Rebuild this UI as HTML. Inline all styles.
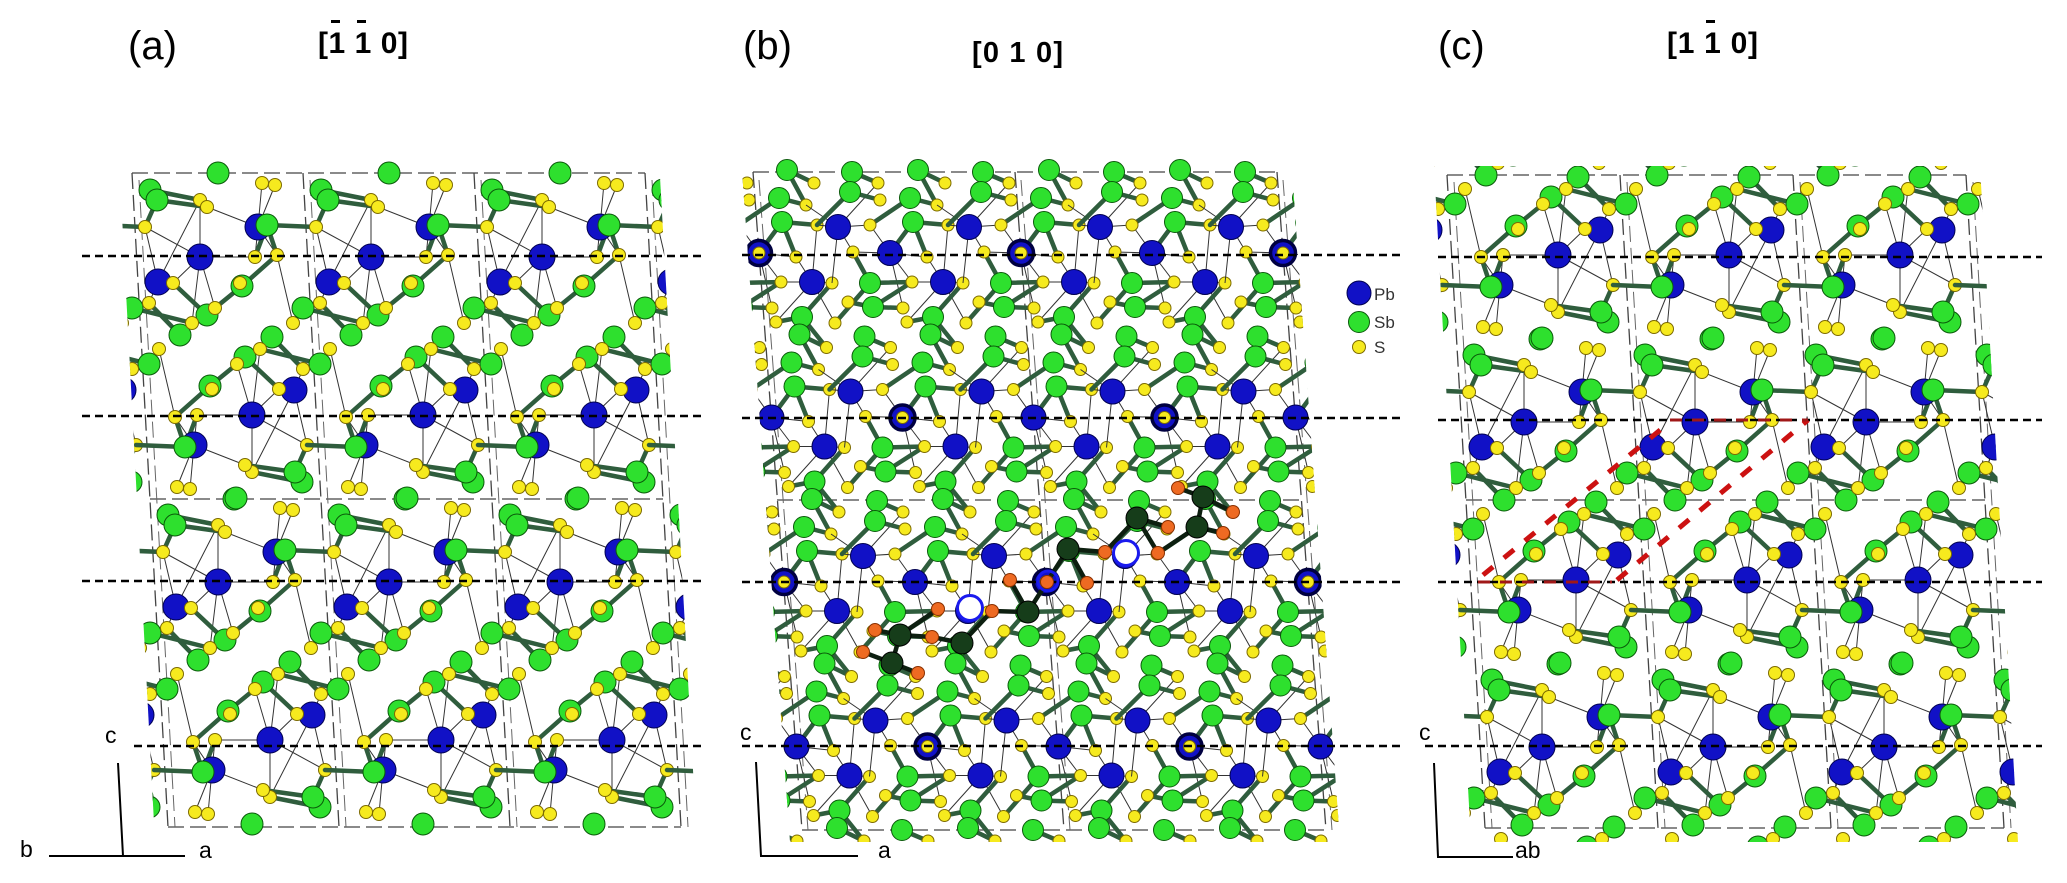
<!DOCTYPE html>
<html><head><meta charset="utf-8">
<style>html,body{margin:0;padding:0;background:#fff;width:2067px;height:883px;overflow:hidden}svg{display:block}</style>
</head><body>
<svg xmlns="http://www.w3.org/2000/svg" width="2067" height="883" viewBox="0 0 2067 883" font-family="'Liberation Sans', Arial, sans-serif">
<defs>
<g id="ha">
<path d="M258 227L262 183M258 227L275 185M258 227L207 207M258 227L255 257M258 227L277 255M200 257L200 200M200 257L145 227M200 257L173 283M200 257L215 308M200 257L192 323M200 257L255 257M158 282L145 227M158 282L173 283M158 282L149 303M158 282L200 200M293 323L277 255" stroke="#333" stroke-width="1" fill="none"/>
<path d="M150 190L200 200M157 200L207 207M157 200L145 227M267 225L316 227M267 225L255 257M267 225L277 255M242 286L277 255M242 286L215 308M207 315L192 323M207 315L173 283M180 335L149 303M132 308L149 303M132 308L192 323" stroke="#2f5d3d" stroke-width="4.5" fill="none" stroke-linecap="round"/>
<g fill="#1111c6" stroke="#000050"><circle cx="258" cy="227" r="13"/><circle cx="200" cy="257" r="13"/><circle cx="158" cy="282" r="13"/></g>
<g fill="#2ee02e" stroke="#0a5a0a"><circle cx="218" cy="173" r="11"/><circle cx="150" cy="190" r="11"/><circle cx="157" cy="200" r="11"/><circle cx="267" cy="225" r="11"/><circle cx="242" cy="286" r="11"/><circle cx="132" cy="308" r="11"/><circle cx="207" cy="315" r="11"/><circle cx="180" cy="335" r="11"/></g>
<g fill="#f6ea1e" stroke="#7d6b00"><circle cx="262" cy="183" r="6.5"/><circle cx="275" cy="185" r="6.5"/><circle cx="200" cy="200" r="6.5"/><circle cx="207" cy="207" r="6.5"/><circle cx="145" cy="227" r="6.5"/><circle cx="255" cy="257" r="6.5"/><circle cx="277" cy="255" r="6.5"/><circle cx="173" cy="283" r="6.5"/><circle cx="240" cy="283" r="6.5"/><circle cx="149" cy="303" r="6.5"/><circle cx="215" cy="308" r="6.5"/><circle cx="192" cy="323" r="6.5"/><circle cx="293" cy="323" r="6.5"/></g>
</g>
<g id="ua"><use href="#ha"/><use href="#ha" transform="rotate(180 226 336)"/></g>
<g id="hit">
<path d="M245 357L260 349" stroke="#2f5d3d" stroke-width="4.5" fill="none" stroke-linecap="round"/>
<g fill="#2ee02e" stroke="#0a5a0a"><circle cx="272" cy="337" r="11"/><circle cx="245" cy="357" r="11"/></g>
<g fill="#f6ea1e" stroke="#7d6b00"><circle cx="260" cy="349" r="6.5"/><circle cx="159" cy="349" r="6.5"/></g>
</g>

<g id="ub">
<path d="M890 253L853 252M890 253L927 257M890 253L870 225M890 253L912 282M890 253L903 308M838 227L853 252M838 227L870 225M838 227L817 225M838 227L806 205M838 227L832 283M838 227L878 183M943 282L927 257M943 282L963 283M943 282L912 282M943 282L948 225M943 282L907 322M943 282L966 323" stroke="#333" stroke-width="1" fill="none"/>
<path d="M918 170L945 183M918 170L937 205M910 198L937 205M913 222L948 225M913 222L927 257M913 222L890 253M852 172L878 183M850 192L880 200M850 192L817 225M870 225L910 198M870 283L853 252M870 283L912 282M873 307L848 302M873 307L903 308M873 307L912 282M933 317L907 322M933 317L963 283M933 317L957 347M966 323L1001 283" stroke="#2f5d3d" stroke-width="4.5" fill="none" stroke-linecap="round"/>
<g fill="#1111c6" stroke="#000050"><circle cx="890" cy="253" r="12.5"/><circle cx="838" cy="227" r="12.5"/><circle cx="943" cy="282" r="12.5"/></g>
<g fill="#2ee02e" stroke="#0a5a0a"><circle cx="918" cy="170" r="10.5"/><circle cx="910" cy="198" r="10.5"/><circle cx="913" cy="222" r="10.5"/><circle cx="852" cy="172" r="10.5"/><circle cx="850" cy="192" r="10.5"/><circle cx="870" cy="283" r="10.5"/><circle cx="873" cy="307" r="10.5"/><circle cx="933" cy="317" r="10.5"/></g>
<g fill="#f6ea1e" stroke="#7d6b00"><circle cx="878" cy="183" r="6"/><circle cx="945" cy="183" r="6"/><circle cx="880" cy="200" r="6"/><circle cx="937" cy="205" r="6"/><circle cx="870" cy="225" r="6"/><circle cx="948" cy="225" r="6"/><circle cx="853" cy="252" r="6"/><circle cx="927" cy="257" r="6"/><circle cx="912" cy="282" r="6"/><circle cx="963" cy="283" r="6"/><circle cx="848" cy="302" r="6"/><circle cx="903" cy="308" r="6"/><circle cx="966" cy="323" r="6"/><circle cx="907" cy="322" r="6"/></g>
</g>
<g id="ubr"><use href="#ub"/><circle cx="890" cy="253" r="12.5" fill="#1111c6" stroke="#000040" stroke-width="3.5"/><circle cx="890" cy="253" r="6" fill="#f6ea1e" stroke="#7d6b00"/></g>
<g id="ubt">
<path d="M918 170L945 183M852 172L878 183" stroke="#2f5d3d" stroke-width="4.5" fill="none" stroke-linecap="round"/>
<g fill="#2ee02e" stroke="#0a5a0a"><circle cx="918" cy="170" r="10.5"/><circle cx="852" cy="172" r="10.5"/></g>
<g fill="#f6ea1e" stroke="#7d6b00"><circle cx="878" cy="183" r="6"/><circle cx="945" cy="183" r="6"/></g>
</g>

<clipPath id="ca"><polygon points="119,159 659,159 697,842 155,842"/></clipPath>
<clipPath id="cb"><polygon points="741,157 1291,157 1340,842 790,842"/></clipPath>
<clipPath id="cc"><polygon points="1434,166 1980,166 2018,842 1471,842"/></clipPath>
</defs>

<rect width="2067" height="883" fill="#fff"/>

<g stroke="#444" stroke-width="1.3" fill="none" stroke-dasharray="16 6">
<path d="M132 173H645M150 499H663M168 827H681M132 173L168 827M303 173L339 827M474 173L510 827M645 173L681 827"/>
<path d="M139 180L175 827M310 180L346 827M481 180L517 827M652 180L688 827" stroke="#666" stroke-width="1"/>
<path d="M753 172H1277M777 500H1301M802 830H1326M753 172L802 830M1015 172L1064 830M1277 172L1326 830"/>
<path d="M759 180L808 830M1021 180L1070 830M1283 180L1332 830" stroke="#666" stroke-width="1"/>
<path d="M1447 175H1966M1466 500H1985M1485 828H2004M1447 175L1485 828M1620 175L1658 828M1793 175L1831 828M1966 175L2004 828"/>
<path d="M1454 182L1492 828M1627 182L1665 828M1800 182L1838 828M1973 182L2011 828" stroke="#666" stroke-width="1"/>
</g>

<g clip-path="url(#ca)">
<use href="#ua" transform="translate(-171,0)"/><use href="#ua"/><use href="#ua" transform="translate(171,0)"/><use href="#ua" transform="translate(342,0)"/><use href="#ua" transform="translate(513,0)"/>
<use href="#ua" transform="translate(-153,325)"/><use href="#ua" transform="translate(18,325)"/><use href="#ua" transform="translate(189,325)"/><use href="#ua" transform="translate(360,325)"/><use href="#ua" transform="translate(531,325)"/>
</g>

<g clip-path="url(#cb)">
<use href="#ubr" transform="translate(-131,0)"/><use href="#ub"/><use href="#ubr" transform="translate(131,0)"/><use href="#ub" transform="translate(262,0)"/><use href="#ubr" transform="translate(393,0)"/>
<use href="#ub" transform="translate(-118.5,164.5)"/><use href="#ubr" transform="translate(12.5,164.5)"/><use href="#ub" transform="translate(143.5,164.5)"/><use href="#ubr" transform="translate(274.5,164.5)"/><use href="#ub" transform="translate(405.5,164.5)"/>
<use href="#ubr" transform="translate(-106,329)"/><use href="#ub" transform="translate(25,329)"/><use href="#ubr" transform="translate(156,329)"/><use href="#ub" transform="translate(287,329)"/><use href="#ubr" transform="translate(418,329)"/>
<use href="#ub" transform="translate(-93.5,493.5)"/><use href="#ubr" transform="translate(37.5,493.5)"/><use href="#ub" transform="translate(168.5,493.5)"/><use href="#ubr" transform="translate(299.5,493.5)"/><use href="#ub" transform="translate(430.5,493.5)"/>
<use href="#ubt" transform="translate(-81,658)"/><use href="#ubt" transform="translate(50,658)"/><use href="#ubt" transform="translate(181,658)"/><use href="#ubt" transform="translate(312,658)"/><use href="#ubt" transform="translate(443,658)"/>
</g>

<g clip-path="url(#cc)">
<use href="#ua" transform="translate(1135,-160)"/><use href="#ua" transform="translate(1306,-160)"/><use href="#ua" transform="translate(1477,-160)"/><use href="#ua" transform="translate(1648,-160)"/><use href="#ua" transform="translate(1819,-160)"/>
<use href="#ua" transform="translate(1153,165)"/><use href="#ua" transform="translate(1324,165)"/><use href="#ua" transform="translate(1495,165)"/><use href="#ua" transform="translate(1666,165)"/><use href="#ua" transform="translate(1837,165)"/>
<use href="#ha" transform="translate(1171,490)"/><use href="#ha" transform="translate(1342,490)"/><use href="#ha" transform="translate(1513,490)"/><use href="#ha" transform="translate(1684,490)"/><use href="#ha" transform="translate(1855,490)"/>
<use href="#hit" transform="translate(1171,490)"/><use href="#hit" transform="translate(1342,490)"/><use href="#hit" transform="translate(1513,490)"/><use href="#hit" transform="translate(1684,490)"/><use href="#hit" transform="translate(1855,490)"/>
</g>

<g stroke="#000" stroke-width="2.6" fill="none" stroke-dasharray="8 5">
<path d="M82 256H702M82 416H702M82 581H702M134 746H702"/>
<path d="M742 255H1400M742 418H1400M742 582H1400M742 746H1400"/>
<path d="M1438 257H2042M1438 420H2042M1438 582H2042M1425 746H2042"/>
</g>

<g>
<path d="M875 630L900 635L932 637L962 643M900 635L892 663L863 652M892 663L918 673M900 635L938 609M962 643L992 611L1028 612L1047 582L1068 549L1087 583M1010 580L1028 612M1068 549L1105 552L1137 518L1158 553L1197 527L1223 533M1137 518L1168 527M1197 527L1203 497L1178 488M1203 497L1233 512" stroke="#0d1f10" stroke-width="4.5" fill="none" stroke-linecap="round"/>
<g fill="#fff" stroke="#1a1aee" stroke-width="3"><circle cx="970" cy="608" r="12.5"/><circle cx="1126" cy="553" r="12.5"/></g>
<g fill="#163d1a" stroke="#000"><circle cx="900" cy="635" r="11"/><circle cx="892" cy="663" r="11"/><circle cx="962" cy="643" r="11"/><circle cx="1028" cy="612" r="11"/><circle cx="1068" cy="549" r="11"/><circle cx="1137" cy="518" r="11"/><circle cx="1203" cy="497" r="11"/><circle cx="1197" cy="527" r="11"/></g>
<g fill="#ee6a22" stroke="#8a3000"><circle cx="875" cy="630" r="6.5"/><circle cx="863" cy="652" r="6.5"/><circle cx="918" cy="673" r="6.5"/><circle cx="932" cy="637" r="6.5"/><circle cx="938" cy="609" r="6.5"/><circle cx="992" cy="611" r="6.5"/><circle cx="1010" cy="580" r="6.5"/><circle cx="1047" cy="582" r="6.5"/><circle cx="1087" cy="583" r="6.5"/><circle cx="1105" cy="552" r="6.5"/><circle cx="1158" cy="553" r="6.5"/><circle cx="1168" cy="527" r="6.5"/><circle cx="1178" cy="488" r="6.5"/><circle cx="1223" cy="533" r="6.5"/><circle cx="1233" cy="512" r="6.5"/></g>
<circle cx="1048" cy="581" r="10" fill="none" stroke="#1a1aee" stroke-width="3"/>
</g>

<path d="M1483 575L1670 422M1617 580L1808 420" stroke="#cc1111" stroke-width="5" fill="none" stroke-dasharray="13 14"/>
<path d="M1670 420H1808M1478 582H1612" stroke="#a01818" stroke-width="3" fill="none" stroke-dasharray="12 10"/>

<circle cx="1359" cy="293" r="12" fill="#1111c6" stroke="#000050"/>
<circle cx="1359" cy="322" r="10.5" fill="#2ee02e" stroke="#0a5a0a"/>
<circle cx="1359" cy="347" r="6.5" fill="#f6ea1e" stroke="#7d6b00"/>
<g fill="#333" font-size="17"><text x="1374" y="300">Pb</text><text x="1374" y="328">Sb</text><text x="1374" y="353">S</text></g>

<g fill="#000">
<text x="128" y="59" font-size="40">(a)</text>
<text x="318" y="53" font-size="30" font-weight="bold" textLength="90" lengthAdjust="spacing">[1 1 0]</text>
<rect x="331" y="20" width="9" height="3"/><rect x="357" y="20" width="9" height="3"/>
<text x="743" y="59" font-size="40">(b)</text>
<text x="972" y="62" font-size="29" font-weight="bold" textLength="91" lengthAdjust="spacing">[0 1 0]</text>
<text x="1438" y="59" font-size="40">(c)</text>
<text x="1667" y="53" font-size="30" font-weight="bold" textLength="91" lengthAdjust="spacing">[1 1 0]</text>
<rect x="1706" y="20" width="9" height="3"/>
</g>

<g stroke="#000" stroke-width="2" fill="none">
<path d="M118 763L123 856H49M123 856H185"/>
<path d="M756 762L761 856H858"/>
<path d="M1434 763L1438 857H1513"/>
</g>
<g fill="#000" font-size="23">
<text x="105" y="743">c</text><text x="20" y="857">b</text><text x="199" y="858">a</text>
<text x="740" y="740">c</text><text x="878" y="858">a</text>
<text x="1419" y="740">c</text><text x="1515" y="858">ab</text>
</g>
</svg>
</body></html>
